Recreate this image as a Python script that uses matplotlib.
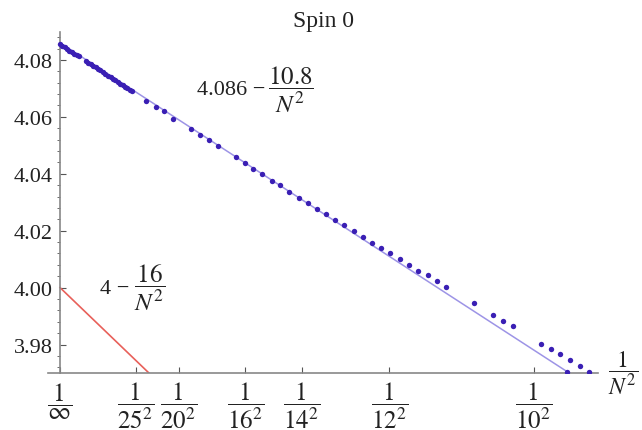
import matplotlib.pyplot as plt
from matplotlib.ticker import MultipleLocator

plt.rcParams['font.family'] = ['Liberation Serif', 'DejaVu Serif']
plt.rcParams['mathtext.fontset'] = 'stix'

# data points (x = 1/N^2)
dots_x = [0.0, 0.00005, 0.0001, 0.00015, 0.0002, 0.00025, 0.0003, 0.00035, 0.0004,
          0.00055, 0.0006, 0.00065, 0.0007, 0.00075, 0.0008, 0.00085, 0.0009, 0.00095,
          0.00102, 0.00107, 0.00112, 0.00117, 0.00122, 0.00127, 0.00132, 0.00137,
          0.00142, 0.00147, 0.00152,
          0.001814, 0.002025, 0.002194, 0.002384, 0.002764, 0.002954, 0.003143,
          0.003333, 0.003713, 0.003903, 0.004072, 0.004262, 0.004473, 0.004641,
          0.004831, 0.005042, 0.005232, 0.005422, 0.005612, 0.005802, 0.005992,
          0.006203, 0.006392, 0.006582, 0.006772, 0.006962, 0.007173, 0.007363,
          0.007553, 0.007764, 0.007954, 0.008143, 0.008734, 0.009135, 0.009346,
          0.009557, 0.010148, 0.010359, 0.010549, 0.010759, 0.010970, 0.010696,
          0.011160]
dots_y = [4.0855, 4.0850, 4.0844, 4.0839, 4.0833, 4.0828, 4.0822, 4.0817, 4.0812,
          4.0795, 4.0790, 4.0784, 4.0779, 4.0774, 4.0768, 4.0763, 4.0757, 4.0752,
          4.0744, 4.0739, 4.0733, 4.0728, 4.0723, 4.0717, 4.0712, 4.0706,
          4.0701, 4.0695, 4.0690,
          4.0657, 4.0636, 4.0619, 4.0594, 4.0556, 4.0535, 4.0517,
          4.0496, 4.0458, 4.0437, 4.0416, 4.0399, 4.0374, 4.0360,
          4.0336, 4.0315, 4.0297, 4.0277, 4.0259, 4.0238, 4.0221,
          4.0200, 4.0179, 4.0158, 4.0140, 4.0123, 4.0102, 4.0081,
          4.0060, 4.0043, 4.0022, 4.0001, 3.9945, 3.9903, 3.9882,
          3.9865, 3.9802, 3.9784, 3.9767, 3.9746, 3.9725, 3.9702,
          3.9702]

# fits
blue_a, blue_b = 4.086, 10.8
red_a, red_b = 4.0, 16.0
fit_x = [0.0, 0.0115]

tick_N = ['\\infty', '25^2', '20^2', '16^2', '14^2', '12^2', '10^2']
tick_vals = [0.0, 1 / 625, 1 / 400, 1 / 256, 1 / 196, 1 / 144, 1 / 100]

fig = plt.figure(figsize=(6.42, 4.31), dpi=100)
ax = fig.add_axes([0.0748, 0.1323, 0.8567, 0.7911])

ax.plot(fit_x, [blue_a - blue_b * x for x in fit_x], color='#9d94e6', lw=1.1, zorder=2)
ax.plot(fit_x, [red_a - red_b * x for x in fit_x], color='#e8605a', lw=1.2, zorder=2)
ax.scatter(dots_x, dots_y, s=15, color='#3a1fb4', zorder=3, linewidths=0)

ax.set_xlim(-0.000253, 0.01135)
ax.set_ylim(3.970, 4.0898)

ax.spines['left'].set_position(('data', 0))
ax.spines['top'].set_visible(False)
ax.spines['right'].set_visible(False)
for s in ['left', 'bottom']:
    ax.spines[s].set_color('#888888')
    ax.spines[s].set_linewidth(1.2)

ax.yaxis.set_minor_locator(MultipleLocator(0.004))
ax.set_yticks([3.98, 4.00, 4.02, 4.04, 4.06, 4.08])
ax.set_yticklabels(['3.98', '4.00', '4.02', '4.04', '4.06', '4.08'])
ax.set_xticks(tick_vals)
ax.set_xticklabels([r'$\dfrac{1}{%s}$' % t for t in tick_N])
ax.tick_params(axis='both', direction='in', colors='#222222')
ax.tick_params(axis='y', which='major', length=4, color='#555555', pad=5, labelsize=16)
ax.tick_params(axis='y', which='minor', length=2, color='#555555')
ax.tick_params(axis='x', which='major', length=4, color='#555555', pad=5, labelsize=18)

ax.set_title('Spin 0', fontsize=17, color='#222222', pad=4)

# fit labels
ax.text(0.00288, 4.0695, '4.086 \u2212', fontsize=16, va='center', ha='left', color='#222222')
ax.text(0.00488, 4.0699, r'$\dfrac{10.8}{N^2}$', fontsize=18, va='center',
        ha='center', color='#222222')
ax.text(0.000844, 3.9998, '4 \u2212', fontsize=16, va='center', ha='left', color='#222222')
ax.text(0.00190, 4.0003, r'$\dfrac{16}{N^2}$', fontsize=18, va='center',
        ha='center', color='#222222')
fig.text(623 / 642, 1 - 373 / 431, r'$\dfrac{1}{N^2}$', fontsize=17, ha='center',
         va='center', color='#222222')

fig.savefig('out.png', dpi=100)
